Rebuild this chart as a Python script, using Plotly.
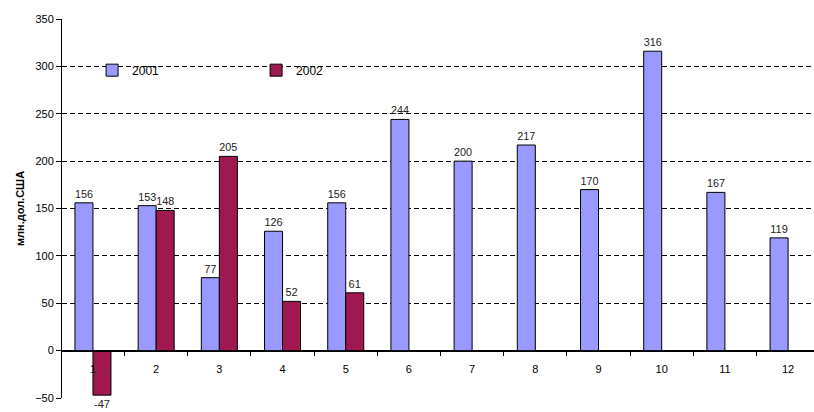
import plotly.graph_objects as go

months = ["1", "2", "3", "4", "5", "6", "7", "8", "9", "10", "11", "12"]
values_2001 = [156, 153, 77, 126, 156, 244, 200, 217, 170, 316, 167, 119]
values_2002 = [-47, 148, 205, 52, 61, None, None, None, None, None, None, None]
y_ticks = [-50, 0, 50, 100, 150, 200, 250, 300, 350]

font_family = "Arial, 'Liberation Sans', sans-serif"

fig = go.Figure()
fig.add_trace(go.Bar(
    x=months, y=values_2001, name="2001",
    marker=dict(color="#9999FF", line=dict(color="#000000", width=1)),
    text=[str(v) for v in values_2001], textposition="outside",
    textfont=dict(size=11, color="#222222", family=font_family),
    cliponaxis=False,
))
fig.add_trace(go.Bar(
    x=months, y=values_2002, name="2002",
    marker=dict(color="#A01850", line=dict(color="#000000", width=1)),
    text=["" if v is None else str(v) for v in values_2002], textposition="outside",
    textfont=dict(size=11, color="#222222", family=font_family),
    cliponaxis=False,
))

fig.update_layout(
    width=814, height=412,
    margin=dict(l=62, r=0, t=19, b=14),
    paper_bgcolor="white", plot_bgcolor="white",
    barmode="group", bargap=0.43, bargroupgap=0,
    font=dict(family=font_family, size=11, color="#000000"),
    showlegend=True,
    legend=dict(
        orientation="h", x=0.04, y=0.865, xanchor="left", yanchor="middle",
        bgcolor="rgba(0,0,0,0)", entrywidth=119, entrywidthmode="pixels",
        itemwidth=30, font=dict(size=12, family=font_family),
        traceorder="normal",
    ),
    shapes=[dict(
        type="rect", xref="paper", yref="y", layer="between",
        x0=0.002, x1=(390 - 62) / 752, y0=288, y1=312,
        fillcolor="white", line=dict(width=0),
    )],
)

fig.update_yaxes(
    range=[-50, 350], tickvals=y_ticks,
    showgrid=True, gridcolor="#000000", griddash="5px,3px", gridwidth=1.2,
    zeroline=True, zerolinecolor="#000000", zerolinewidth=1,
    showline=True, linecolor="#000000", linewidth=1,
    ticks="outside", ticklen=5, tickcolor="#000000",
    tickfont=dict(size=11),
    title=dict(text="<b>млн.дол.США</b>", font=dict(size=11), standoff=8),
)
fig.update_xaxes(
    type="category", range=[-0.49, 11.41],
    anchor="free", position=0.125,
    showline=True, linecolor="#000000", linewidth=1,
    ticks="outside", ticklen=4, tickcolor="#000000", tickson="boundaries",
    showgrid=False, tickfont=dict(size=11), ticklabelstandoff=8,
)

fig.write_html("out.html")
